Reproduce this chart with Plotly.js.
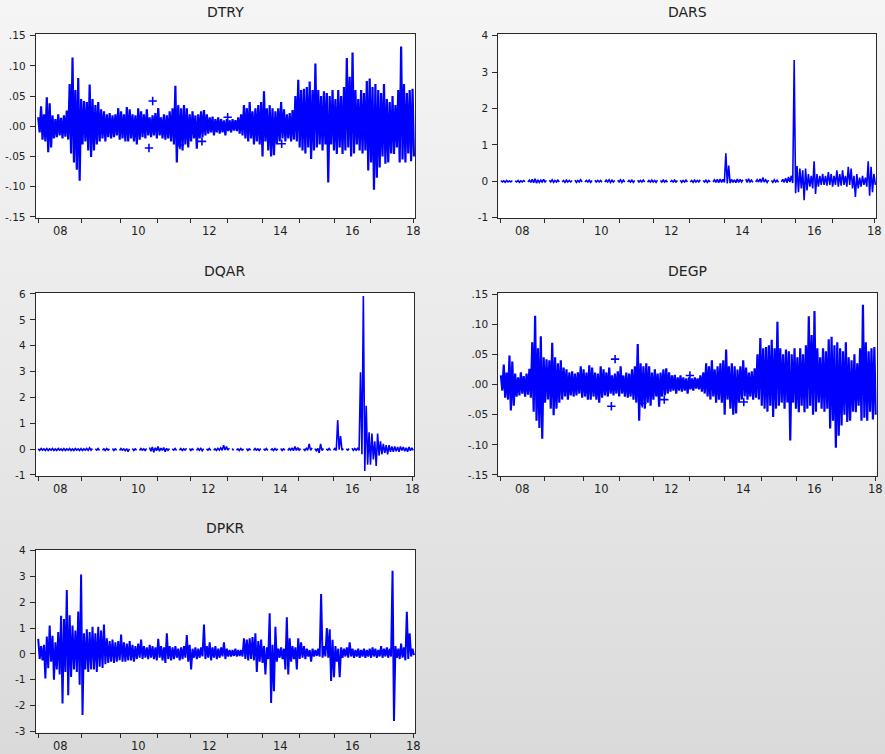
<!DOCTYPE html>
<html>
<head>
<meta charset="utf-8">
<script src="https://cdn.plot.ly/plotly-3.0.1.min.js"></script>
<style>
html,body{margin:0;padding:0;}
body{width:885px;height:754px;background:linear-gradient(to bottom,#f5f5f5 0%,#e8e8e8 55%,#dadada 100%);}
#chart{width:885px;height:754px;}
</style>
</head>
<body>
<div id="chart"></div>
<script>
// observation spacing of the sampled values (trading days)
const OBS_STEP = 10;
// observation index at which each calendar year starts (2008 ... 2018)
const YEAR_START_OBS = [0, 306, 577, 833, 1069, 1326, 1571, 1827, 2072, 2329, 2625];
const YEAR_LABELS = ['08', '10', '12', '14', '16', '18'];
const YEAR_LABEL_YEARIDX = [0, 2, 4, 6, 8, 10];

const Y_TICKS_SMALL = [-0.15, -0.10, -0.05, 0, 0.05, 0.10, 0.15];
const Y_TEXT_SMALL = ['-.15', '-.10', '-.05', '.00', '.05', '.10', '.15'];
const Y_TICKS_DARS = [-1, 0, 1, 2, 3, 4];
const Y_TICKS_DQAR = [-1, 0, 1, 2, 3, 4, 5, 6];
const Y_TICKS_DPKR = [-3, -2, -1, 0, 1, 2, 3, 4];

const DTRY = [
.015,-.01,.033,-.022,.02,-.025,.048,-.043,.038,-.035,.018,-.02,.012,-.018,.02,-.015,.014,-.02,.018,-.017,
.026,-.022,.07,-.045,.114,-.06,.06,-.072,.08,-.09,.045,-.03,.042,-.025,.04,-.04,.069,-.051,.045,-.04,
.035,-.03,.04,-.025,.028,-.02,.025,-.025,.02,-.018,.022,-.02,.018,-.018,.02,-.015,.03,-.022,.025,-.02,
.02,-.025,.032,-.025,.028,-.02,.02,-.025,.018,-.03,.03,-.022,.025,-.018,.02,-.02,.028,-.015,.015,-.018,
.018,-.015,.022,-.02,.03,-.015,.015,-.02,.02,-.022,.018,-.02,.025,-.025,.03,-.03,.067,-.06,.035,-.035,
.03,-.04,.035,-.03,.03,-.035,.02,-.025,.025,-.02,.018,-.037,.02,-.02,.025,-.018,.027,-.015,.02,-.012,
.015,-.01,.016,-.015,.012,-.01,.015,-.012,.012,-.01,.01,-.015,.012,-.008,.01,-.01,.012,-.007,.01,-.008,
.015,-.012,.02,-.015,.035,-.02,.03,-.025,.04,-.02,.025,-.03,.03,-.025,.035,-.03,.04,-.05,.058,-.025,
.03,-.04,.035,-.05,.03,-.048,.025,-.03,.03,-.025,.04,-.02,.028,-.025,.02,-.02,.022,-.025,.027,-.022,
.05,-.025,.077,-.035,.06,-.04,.062,-.045,.065,-.035,.074,-.054,.06,-.04,.104,-.035,.06,-.03,.05,-.04,
.058,-.03,.055,-.093,.05,-.03,.06,-.04,.045,-.046,.06,-.035,.05,-.046,.065,-.04,.113,-.035,.082,-.05,
.122,-.045,.06,-.03,.045,-.04,.06,-.045,.055,-.04,.075,-.073,.079,-.06,.065,-.105,.07,-.085,.06,-.068,
.055,-.05,.07,-.062,.045,-.06,.04,-.045,.05,-.046,.035,-.035,.06,-.06,.132,-.055,.07,-.06,.055,-.045,.06,-.058,.062,-.05
];
const DTRY_MARK_OBS = [801, 775, 992, 1146, 1326, 1704];
const DTRY_MARK_VAL = [0.042, -0.036, -0.031, -0.025, 0.015, -0.029];

const DARS = [
.02,-.02,.01,-.03,.02,-.02,.01,-.02,.02,null,.01,-.02,.02,-.03,.01,-.02,.02,-.01,null,-.02,
.03,-.03,.05,-.04,.07,-.05,.04,-.03,.03,-.02,.05,-.02,.02,null,.03,-.02,.04,-.03,.02,-.02,
.03,-.02,null,-.02,.02,-.03,.03,-.02,.02,-.02,.02,null,.03,-.03,.02,-.02,.04,-.02,null,-.02,
.02,-.02,.03,-.03,.02,null,.03,-.02,.02,-.02,.02,-.03,null,-.02,.03,-.02,.04,-.03,.03,-.02,
.02,null,.03,-.02,.04,-.03,.03,-.02,null,-.02,.02,-.02,.03,-.03,.02,null,.03,-.02,.02,-.02,
.03,-.02,null,-.03,.02,-.02,.03,-.02,.02,-.03,.03,null,.02,-.02,.03,-.02,.02,-.03,null,-.02,
.02,-.02,.03,-.02,.02,null,.03,-.03,.02,-.02,.03,-.02,null,-.02,.02,-.03,.03,-.02,.02,-.02,
.04,null,.02,-.02,.03,-.03,.02,-.02,null,-.02,.04,-.03,.05,-.04,.06,-.03,.05,-.03,.77,-.06,
.43,-.05,.05,-.03,.04,-.04,.06,-.03,.05,-.02,.04,null,.06,-.03,.07,-.02,.03,-.03,null,-.02,
.04,-.02,.06,-.03,.1,-.02,.04,-.03,.03,null,.02,-.03,.04,-.02,.03,-.03,null,-.02,.05,-.03,
.08,-.04,.12,-.02,.15,-.05,3.33,-.33,.42,-.3,.35,-.2,.3,-.52,.35,-.25,.2,-.15,.15,-.2,
.55,-.35,.2,-.15,.15,-.1,.2,-.1,.15,-.12,.25,-.1,.2,-.15,.15,-.1,.3,-.15,.2,-.12,
.3,-.1,.15,-.15,.4,-.1,.35,-.2,.15,-.43,.2,-.2,.1,-.15,.15,-.1,.1,-.15,.55,-.4,.4,-.3,.2,-.1
];

const DQAR = [
.01,-.05,.02,-.04,.01,-.05,.02,-.05,.01,-.04,.02,-.05,.01,-.05,.02,-.04,.01,-.05,.02,-.05,
.01,-.04,.02,-.05,.01,-.05,.02,-.04,.01,-.05,.02,-.05,.01,-.04,.02,-.05,.05,-.04,.02,null,
.01,-.04,.02,-.05,null,-.04,.01,-.05,.02,-.04,.01,null,.02,-.05,.01,-.04,null,-.05,.02,-.04,
.01,-.06,.02,-.1,.01,null,.02,-.05,.01,-.04,null,-.05,.02,-.04,.01,-.05,.02,null,.06,-.08,
.08,-.12,.05,-.06,.1,-.08,.04,-.05,.06,-.1,.03,-.05,.02,null,.01,-.04,.02,-.05,null,-.04,
.02,-.05,.01,-.04,.03,null,.02,-.05,.01,-.04,null,-.05,.02,-.04,.03,-.06,.02,null,.01,-.04,
.02,-.05,null,-.04,.01,-.05,.03,-.04,.05,-.05,.15,-.03,.1,-.04,.04,null,.02,-.05,null,-.04,
.01,-.05,.02,-.04,.01,null,.02,-.05,.01,-.04,null,-.05,.02,-.04,.01,-.05,.02,null,.01,-.04,
.02,-.05,null,-.04,.01,-.05,.02,-.04,.01,null,.02,-.05,.01,-.04,null,-.05,.02,-.04,.05,-.06,
.1,-.05,.06,-.04,.02,null,.01,-.05,.03,-.04,.2,-.05,.05,null,.02,-.06,.03,-.15,.2,-.05,
.02,null,.01,-.04,.02,-.05,null,-.04,.02,-.05,1.12,-.02,.5,-.04,.02,null,.01,-.04,.02,null,
.04,-.05,.02,-.04,.03,-.05,2.97,-.2,5.92,-.85,1.68,-.6,.65,-.6,.6,-.4,.3,-.65,.6,-.25,
.3,-.2,.2,-.15,.15,-.2,.15,-.1,.1,-.1,.1,-.08,.08,-.1,.1,-.05,.08,-.08,.05,-.1,.08,-.06,.05,-.05
];

const DEGP = [
.015,-.01,.033,-.022,.02,-.025,.048,-.043,.038,-.035,.018,-.02,.012,-.018,.02,-.015,.014,-.02,.018,-.017,
.026,-.022,.07,-.045,.114,-.06,.06,-.072,.08,-.09,.045,-.03,.042,-.025,.04,-.04,.069,-.051,.045,-.04,
.035,-.03,.04,-.025,.028,-.02,.025,-.025,.02,-.018,.022,-.02,.018,-.018,.02,-.015,.03,-.022,.025,-.02,
.02,-.025,.032,-.025,.028,-.02,.02,-.025,.018,-.03,.03,-.022,.025,-.018,.02,-.02,.028,-.015,.015,-.018,
.018,-.015,.022,-.02,.03,-.015,.015,-.02,.02,-.022,.018,-.02,.025,-.025,.03,-.03,.067,-.06,.035,-.035,
.03,-.04,.035,-.03,.03,-.035,.02,-.025,.025,-.02,.018,-.037,.02,-.02,.025,-.018,.027,-.015,.02,-.012,
.015,-.01,.016,-.015,.012,-.01,.015,-.012,.012,-.01,.01,-.015,.012,-.008,.01,-.01,.012,-.007,.01,-.008,
.015,-.012,.02,-.015,.035,-.02,.03,-.025,.04,-.02,.025,-.03,.03,-.025,.035,-.03,.04,-.05,.058,-.025,
.03,-.04,.035,-.05,.03,-.048,.025,-.03,.03,-.025,.04,-.02,.028,-.025,.02,-.02,.022,-.025,.027,-.022,
.05,-.025,.077,-.035,.06,-.04,.062,-.045,.065,-.035,.074,-.054,.06,-.04,.104,-.035,.06,-.03,.05,-.04,
.058,-.03,.055,-.093,.05,-.03,.06,-.04,.045,-.046,.06,-.035,.05,-.046,.065,-.04,.113,-.035,.082,-.05,
.122,-.045,.06,-.03,.045,-.04,.06,-.045,.055,-.04,.075,-.073,.079,-.06,.065,-.105,.07,-.085,.06,-.068,
.055,-.05,.07,-.062,.045,-.06,.04,-.045,.05,-.046,.035,-.035,.06,-.06,.132,-.055,.07,-.06,.055,-.045,.06,-.058,.062,-.05
];
const DEGP_MARK_OBS = [801, 775, 992, 1146, 1326, 1704];
const DEGP_MARK_VAL = [0.042, -0.036, -0.031, -0.025, 0.015, -0.029];

const DPKR = [
.58,-.2,.3,-.25,.35,-.95,.67,-.56,1.1,-.3,.7,-1,.45,-.6,.85,-.8,1.48,-1.92,1.35,-.7,
2.47,-1.6,1.5,-.9,1.1,-.6,.9,-.7,1.64,-1.2,3.08,-2.37,.8,-.6,.95,-.7,.85,-.6,1.05,-.6,
.8,-.7,1.05,-.5,.9,-.55,1.14,-.4,.6,-.35,.5,-.3,.55,-.35,.45,-.3,.5,-.25,.75,-.3,
.45,-.3,.4,-.25,.5,-.25,.35,-.3,.3,-.2,.4,-.15,.55,-.2,.3,-.15,.25,-.2,.35,-.15,
.3,-.2,.25,-.25,.58,-.15,.3,-.25,.25,-.35,.8,-.2,.3,-.25,.25,-.2,.3,-.15,.2,-.25,
.25,-.2,.3,-.15,.73,-.3,.35,-.6,.2,-.15,.25,-.2,.2,-.15,.25,-.1,1.14,-.2,.3,-.15,
.45,-.25,.25,-.15,.3,-.2,.2,-.15,.25,-.1,.45,-.2,.2,-.1,.15,-.1,.15,-.08,.2,-.1,
.15,-.08,.15,-.1,.6,-.2,.55,-.25,.6,-.2,.65,-.25,.8,-.7,.5,-.3,.55,-.35,.3,-.8,
.25,-.2,1.57,-1.9,.35,-1.45,1.05,-.3,.2,-.15,.25,-.2,.2,-.6,1.42,-.8,.6,-.3,.3,-.2,
.25,-.6,.6,-.2,.45,-.15,.3,-.2,.2,-.1,.15,-.3,.2,-.1,.15,-.08,.2,-.1,2.32,-.15,
.3,-.1,1,-.15,.95,-1.05,.55,-.9,.3,-.3,.2,-.9,.25,-.15,.2,-.1,.25,-.15,.45,-.1,
.2,-.15,.15,-.1,.2,-.15,.15,-.1,.2,-.15,.15,-.1,.2,-.15,.25,-.1,.2,-.15,.15,-.1,
.3,-.15,.2,-.1,.25,-.15,.2,-.1,3.22,-2.6,.3,-.15,.2,-.2,.4,-.15,.25,-.25,1.63,-.2,.8,-.1,.2,-.05
];

// ---------- layout options built from the arrays above ----------
const BLUE = '#0000ff';
const AXIS_COLOR = '#2a2a2a';
const FONT = 'DejaVu Sans, Verdana, sans-serif';

const panels = [
  {name: 'DTRY', vals: DTRY, tv: Y_TICKS_SMALL, tt: Y_TEXT_SMALL, yr: [-0.1518, 0.1523], lw: 2.2,
   dx: [0.0403, 0.4689], dy: [0.7109, 0.9545], mo: DTRY_MARK_OBS, mv: DTRY_MARK_VAL},
  {name: 'DARS', vals: DARS, tv: Y_TICKS_DARS, tt: Y_TICKS_DARS.map(String), yr: [-1.01, 4.04], lw: 1.6,
   dx: [0.5631, 0.9902], dy: [0.7109, 0.9545]},
  {name: 'DQAR', vals: DQAR, tv: Y_TICKS_DQAR, tt: Y_TICKS_DQAR.map(String), yr: [-1.04, 6.05], lw: 1.6,
   dx: [0.0403, 0.4681], dy: [0.3687, 0.6118]},
  {name: 'DEGP', vals: DEGP, tv: Y_TICKS_SMALL, tt: Y_TEXT_SMALL, yr: [-0.1512, 0.1522], lw: 2.2,
   dx: [0.5631, 0.9907], dy: [0.3691, 0.6118], mo: DEGP_MARK_OBS, mv: DEGP_MARK_VAL},
  {name: 'DPKR', vals: DPKR, tv: Y_TICKS_DPKR, tt: Y_TICKS_DPKR.map(String), yr: [-3.054, 4.027], lw: 2.0,
   dx: [0.0403, 0.4689], dy: [0.0283, 0.2706]}
];

const traces = [];
const layout = {
  width: 885, height: 754,
  margin: {l: 0, r: 0, t: 0, b: 0},
  paper_bgcolor: 'rgba(0,0,0,0)',
  plot_bgcolor: '#ffffff',
  showlegend: false,
  font: {family: FONT, size: 11, color: '#1e1e1e'},
  annotations: []
};

panels.forEach((p, i) => {
  const s = i === 0 ? '' : String(i + 1);
  const xName = 'x' + s, yName = 'y' + s;
  const lastObs = (p.vals.length - 1) * OBS_STEP;
  traces.push({
    x: p.vals.map((_, k) => k * OBS_STEP), y: p.vals,
    type: 'scatter', mode: 'lines', connectgaps: false,
    line: {color: BLUE, width: p.lw},
    xaxis: xName, yaxis: yName, hoverinfo: 'skip'
  });
  if (p.mo) {
    traces.push({
      x: p.mo, y: p.mv, type: 'scatter', mode: 'markers',
      marker: {symbol: 'cross-thin', size: 6, color: BLUE, line: {color: BLUE, width: 1.6}},
      xaxis: xName, yaxis: yName, hoverinfo: 'skip'
    });
  }
  layout['xaxis' + s] = {
    domain: p.dx, anchor: yName, range: [-18, 2637],
    tickmode: 'array', tickvals: YEAR_START_OBS, showticklabels: false,
    ticks: 'outside', ticklen: 4, tickwidth: 1, tickcolor: AXIS_COLOR,
    showline: true, mirror: true, linecolor: AXIS_COLOR, linewidth: 1,
    showgrid: false, zeroline: false, fixedrange: true
  };
  layout['yaxis' + s] = {
    domain: p.dy, anchor: xName, range: p.yr,
    tickmode: 'array', tickvals: p.tv, ticktext: p.tt,
    ticks: 'outside', ticklen: 5, tickwidth: 1, tickcolor: AXIS_COLOR,
    ticklabelstandoff: 2,
    tickfont: {family: FONT, size: 10.5, color: '#1e1e1e'},
    showline: true, mirror: true, linecolor: AXIS_COLOR, linewidth: 1,
    showgrid: false, zeroline: false, fixedrange: true
  };
  // panel title
  layout.annotations.push({
    text: p.name, xref: xName + ' domain', yref: yName + ' domain',
    x: 0.5, y: 1, xanchor: 'center', yanchor: 'middle', yshift: 22,
    showarrow: false, font: {family: FONT, size: 14, color: '#222'}
  });
  // year labels, centred on each labelled year
  YEAR_LABELS.forEach((lab, j) => {
    const yi = YEAR_LABEL_YEARIDX[j];
    const start = YEAR_START_OBS[yi];
    const end = yi + 1 < YEAR_START_OBS.length ? YEAR_START_OBS[yi + 1] : lastObs;
    layout.annotations.push({
      text: lab, xref: xName, yref: yName + ' domain',
      x: (start + end) / 2, y: 0, xanchor: 'center', yanchor: 'middle', yshift: -13,
      showarrow: false, font: {family: FONT, size: 11.5, color: '#1e1e1e'}
    });
  });
});

Plotly.newPlot('chart', traces, layout, {staticPlot: true, displayModeBar: false});
</script>
</body>
</html>
